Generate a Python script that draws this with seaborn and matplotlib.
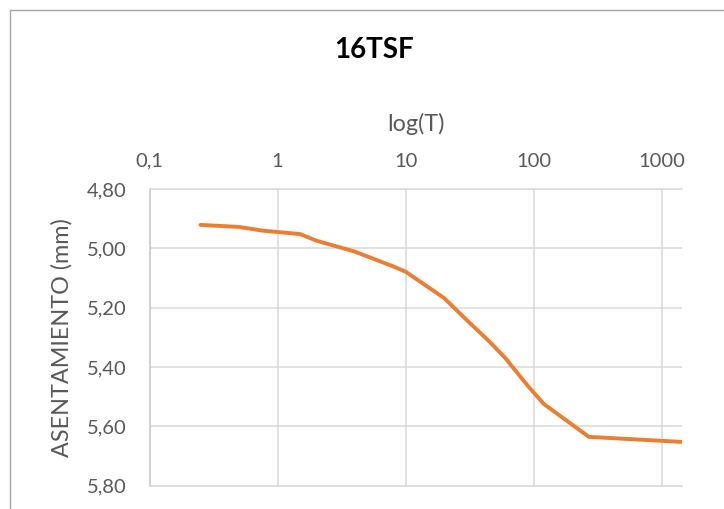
import matplotlib
matplotlib.use("Agg")
import matplotlib.pyplot as plt
import pandas as pd
import seaborn as sns
from matplotlib.lines import Line2D
from matplotlib.ticker import NullLocator

# Consolidation readings: elapsed time (min) vs settlement (mm)
tiempo_min = [0.25, 0.5, 0.75, 1, 1.5, 2, 4, 8, 10, 15, 20, 30, 45, 60, 90,
              120, 270, 1440]
asentamiento_mm = [4.921, 4.928, 4.940, 4.945, 4.952, 4.974, 5.011, 5.061,
                   5.079, 5.131, 5.168, 5.242, 5.314, 5.370, 5.464, 5.525,
                   5.636, 5.653]

x_ticks = [0.1, 1, 10, 100, 1000]
x_tick_labels = ["0,1", "1", "10", "100", "1000"]
y_ticks = [4.8, 5.0, 5.2, 5.4, 5.6, 5.8]
y_tick_labels = ["4,80", "5,00", "5,20", "5,40", "5,60", "5,80"]

sns.set_theme(style="white")
plt.rcParams["font.family"] = ["Lato", "DejaVu Sans"]

GRAY_TXT = "#595959"
GRID = "#d9d9d9"

W, H = 724, 509
fig = plt.figure(figsize=(W / 100, H / 100), dpi=100)
L, R, T, B = 149.5, 682.0, 189.0, 485.5
ax = fig.add_axes([L / W, 1 - B / H, (R - L) / W, (B - T) / H])

df = pd.DataFrame({"t": tiempo_min, "s": asentamiento_mm})
sns.lineplot(data=df, x="t", y="s", ax=ax, color="#ED7D31", lw=2.8,
             solid_capstyle="round", solid_joinstyle="round", zorder=3)

ax.set_xscale("log")
ax.set_xlim(0.1, 1440)
ax.set_ylim(5.8, 4.8)

ax.xaxis.tick_top()
ax.set_xticks(x_ticks, x_tick_labels)
ax.xaxis.set_minor_locator(NullLocator())
ax.set_yticks(y_ticks, y_tick_labels)
ax.tick_params(axis="x", length=0, pad=14, labelsize=14.5, colors=GRAY_TXT)
ax.tick_params(axis="y", length=0, pad=16.4, labelsize=14.5, colors=GRAY_TXT)

ax.grid(True, which="major", color=GRID, lw=1.1)
ax.set_axisbelow(True)
for side in ["top", "bottom"]:
    ax.spines[side].set_color(GRID)
    ax.spines[side].set_linewidth(1.1)
ax.spines["left"].set_color("#c8c8c8")
ax.spines["left"].set_linewidth(1.1)
ax.spines["right"].set_visible(False)

ax.set_xlabel("log(T)", fontsize=16.8, color=GRAY_TXT)
ax.xaxis.set_label_position("top")
ax.xaxis.label.set_va("baseline")
ax.xaxis.set_label_coords(0.5, (B - 131) / (B - T))

ax.set_ylabel("ASENTAMIENTO (mm)", fontsize=16.8, color=GRAY_TXT)
ax.yaxis.label.set_va("center")
ax.yaxis.label.set_ha("center")
ax.yaxis.set_label_coords((62 - L) / (R - L), 0.5)

fig.text(373.7 / W, 1 - 58.3 / H, "16TSF", ha="center", va="baseline",
         fontsize=20, fontweight="bold", color="black")

# chart area frame
fig.add_artist(Line2D([10 / W, 10 / W], [1 - 10 / H, -0.1],
                      transform=fig.transFigure, color="#a6a6a6", lw=1.0))
fig.add_artist(Line2D([10 / W, 1.1], [1 - 10 / H, 1 - 10 / H],
                      transform=fig.transFigure, color="#a6a6a6", lw=1.0))

fig.savefig("out.png", dpi=100)
